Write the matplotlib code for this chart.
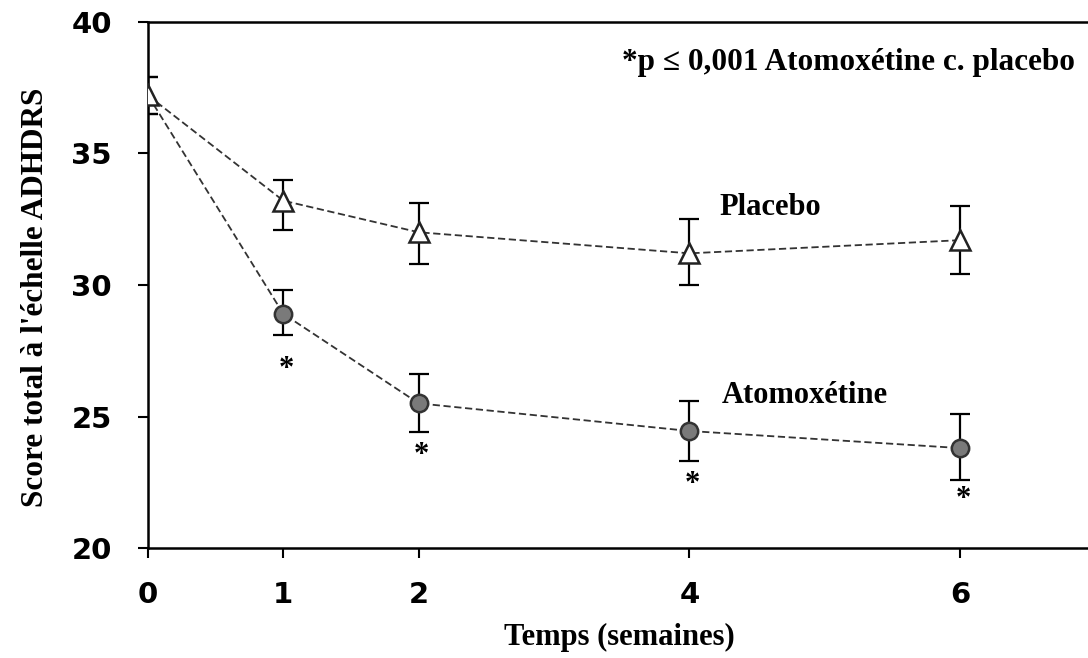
import matplotlib
matplotlib.use("Agg")
import matplotlib.pyplot as plt

## data
weeks = [0, 1, 2, 4, 6]
placebo = [37.2, 33.2, 32.0, 31.2, 31.7]
placebo_lo = [36.5, 32.1, 30.8, 30.0, 30.4]
placebo_hi = [37.9, 34.0, 33.1, 32.5, 33.0]
atomox = [37.2, 28.9, 25.5, 24.45, 23.8]
atomox_lo = [36.5, 28.1, 24.4, 23.3, 22.6]
atomox_hi = [37.9, 29.8, 26.6, 25.6, 25.1]
star_weeks = [1, 2, 4, 6]
star_y = [26.8, 23.5, 22.4, 21.85]

serif = "Liberation Serif"

fig = plt.figure(figsize=(10.88, 6.58), dpi=100)
ax = fig.add_axes([0.136, 0.167, 0.866, 0.8])

line_style = dict(color="#333333", lw=1.3, linestyle=(0, (4, 2)))

## error bars
p_err = [[p - l for p, l in zip(placebo, placebo_lo)], [h - p for p, h in zip(placebo, placebo_hi)]]
a_err = [[a - l for a, l in zip(atomox, atomox_lo)], [h - a for a, h in zip(atomox, atomox_hi)]]
ax.errorbar(weeks, atomox, yerr=a_err, fmt="none", ecolor="black", elinewidth=1.6, capsize=7, capthick=1.6, zorder=2)
ax.errorbar(weeks, placebo, yerr=p_err, fmt="none", ecolor="black", elinewidth=1.6, capsize=7, capthick=1.6, zorder=2)

ax.plot(weeks, atomox, **line_style, zorder=3)
ax.plot(weeks, placebo, **line_style, zorder=3)
## at week 0 the triangle sits on top of the circle
ax.plot(weeks[1:], atomox[1:], "o", ms=12.5, mfc="#7a7a7a", mec="#333333", mew=1.8, zorder=4)
ax.plot(weeks, placebo, "^", ms=14, mfc="white", mec="#222222", mew=1.8, zorder=5)

for w, s in zip(star_weeks, star_y):
	ax.text(w + 0.02, s, "*", fontsize=22, fontweight="bold", family=serif, ha="center", va="center")

ax.text(4.22, 32.95, "Placebo", fontsize=22, fontweight="bold", family=serif, va="center")
ax.text(4.24, 25.8, "Atomoxétine", fontsize=22, fontweight="bold", family=serif, va="center")
ax.text(3.5, 38.45, "*p ≤ 0,001 Atomoxétine c. placebo", fontsize=22.5, fontweight="bold", family=serif, va="center")

ax.set_xlim(0, 6.96)
ax.set_ylim(20, 40)
ax.set_xticks(weeks)
ax.set_yticks([20, 25, 30, 35, 40])
ax.tick_params(direction="out", length=7, width=1.5, labelsize=21)
ax.tick_params(axis="x", pad=17)
ax.tick_params(axis="y", pad=19)
for lab in ax.get_xticklabels() + ax.get_yticklabels():
	lab.set_fontweight("bold")
	lab.set_family("DejaVu Sans")

ax.spines["right"].set_visible(False)
for sp in ["left", "bottom", "top"]:
	ax.spines[sp].set_linewidth(1.8)

ax.set_xlabel("Temps (semaines)", fontsize=22, fontweight="bold", family=serif, labelpad=10)
ax.set_ylabel("Score total à l'échelle ADHDRS", fontsize=22.5, fontweight="bold", family=serif)
ax.yaxis.set_label_coords(-0.104, 0.476)

fig.savefig("out.png", dpi=100)
